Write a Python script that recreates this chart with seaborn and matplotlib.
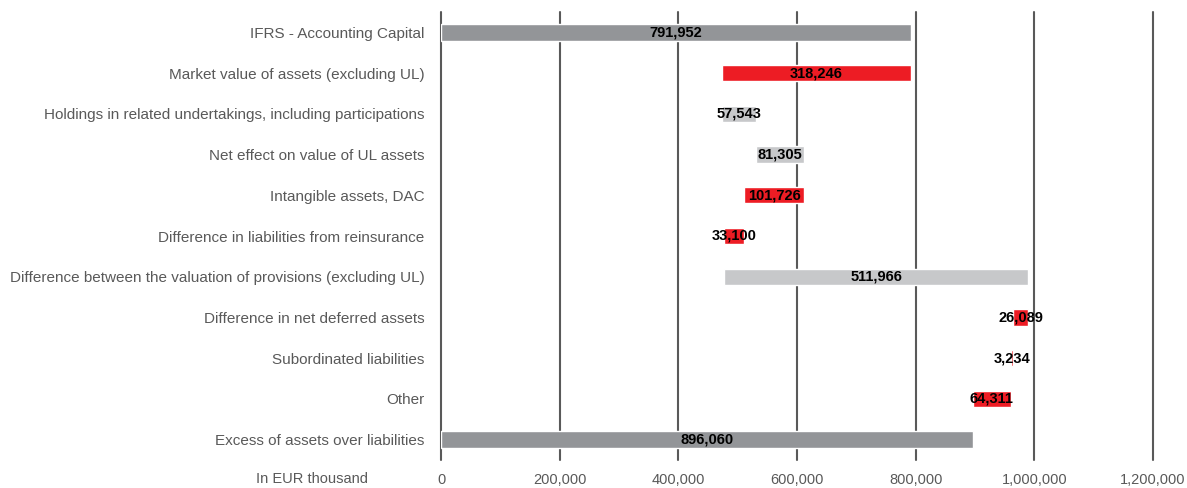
import matplotlib
matplotlib.use('Agg')
import matplotlib.pyplot as plt
import seaborn as sns
import numpy as np
from matplotlib.ticker import FuncFormatter

categories = ['IFRS - Accounting Capital',
              'Market value of assets (excluding UL)',
              'Holdings in related undertakings, including participations',
              'Net effect on value of UL assets',
              'Intangible assets, DAC',
              'Difference in liabilities from reinsurance',
              'Difference between the valuation of provisions (excluding UL)',
              'Difference in net deferred assets',
              'Subordinated liabilities',
              'Other',
              'Excess of assets over liabilities']
changes = [791952, -318246, 57543, 81305, -101726, -33100, 511966, -26089, -3234, -64311, 896060]
kinds = ['total', 'down', 'up', 'up', 'down', 'down', 'up', 'down', 'down', 'down', 'total']

colors = {'total': '#939598', 'down': '#ED1C24', 'up': '#C7C8CA'}

sns.set_style('white')
plt.rcParams['font.family'] = ['Liberation Sans Narrow', 'Liberation Sans', 'DejaVu Sans']

# waterfall starts
lefts, widths = [], []
level = 0
for c, k in zip(changes, kinds):
    if k == 'total':
        lefts.append(0)
        widths.append(c)
        level = c
    else:
        new = level + c
        lefts.append(min(level, new))
        widths.append(abs(c))
        level = new

fig = plt.figure(figsize=(11.87, 4.88), dpi=100)
ax = fig.add_axes([441/1187, 1 - 460/488, (1153 - 441)/1187, (460 - 12)/488])

y = np.arange(len(categories))
ax.barh(y, widths, left=lefts, height=0.4, color=[colors[k] for k in kinds], zorder=3)
for yi, l, w, c in zip(y, lefts, widths, changes):
    ax.text(l + w / 2, yi, f'{abs(c):,}', ha='center', va='center',
            fontsize=10.5, fontweight='bold', color='black', zorder=4)

ax.set_xlim(0, 1200000)
ax.set_ylim(len(categories) - 0.5, -0.5)
ax.set_yticks(y)
ax.set_yticklabels(categories, fontsize=11, color='#595959')
ax.set_xticks(np.arange(0, 1200001, 200000))
ax.xaxis.set_major_formatter(FuncFormatter(lambda v, p: f'{int(v):,}'))
ax.tick_params(axis='x', labelsize=10.5, labelcolor='#595959', length=0, pad=9)
ax.tick_params(axis='y', length=0, pad=12)
ax.grid(axis='x', color='#595959', linewidth=1.5, zorder=0)
ax.grid(axis='y', visible=False)
for gl in ax.get_xgridlines():
    gl.set_clip_on(False)
for s in ['top', 'right', 'bottom', 'left']:
    ax.spines[s].set_visible(False)
fig.text(312/1187, 1 - 479/488, 'In EUR thousand', ha='center', va='center',
         fontsize=10.5, color='#595959')

fig.savefig('out.png', dpi=100)
